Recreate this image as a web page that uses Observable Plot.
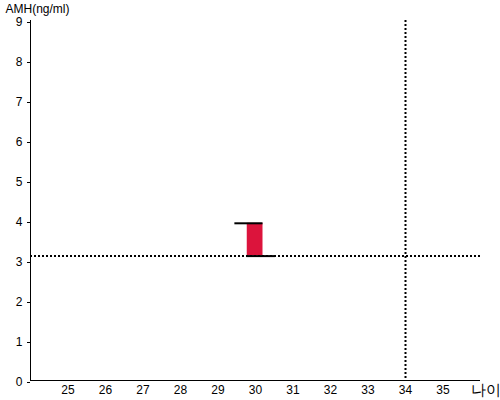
<!DOCTYPE html>
<html><head><meta charset="utf-8">
<script src="https://cdn.jsdelivr.net/npm/d3@7"></script>
<script src="https://cdn.jsdelivr.net/npm/@observablehq/plot@0.6"></script>
<style>
body{margin:0;background:#fff;}
#chart svg{font-family:"Liberation Sans",Arial,sans-serif;}
</style>
</head><body><div id="chart"></div>
<script>
const ages = [30];
const amhLow = [3.11];
const amhHigh = [3.93];
const refAge = [34];
const refAmh = [3.11];
const xTicks = [25,26,27,28,29,30,31,32,33,34,35];
const yTicks = [0,1,2,3,4,5,6,7,8,9];
const yLabel = "AMH(ng/ml)";
const xLabel = "나이";

const bars = ages.map((a,i)=>({age:a, lo:amhLow[i], hi:amhHigh[i]}));

const chart = Plot.plot({
  width: 500, height: 400,
  marginLeft: 30, marginRight: 20, marginTop: 20, marginBottom: 20,
  style: {fontFamily: '"Liberation Sans",Arial,sans-serif', fontSize: "12px", color: "#000", background: "#fff"},
  x: {domain: [24, 36], ticks: xTicks},
  y: {domain: [0, 9], ticks: yTicks},
  marks: [
    Plot.axisY({ticks: yTicks, tickSize: 3, tickPadding: 5, label: null, fontSize: 12, dy: 2}),
    Plot.axisX({ticks: xTicks, tickSize: 0, tickPadding: 5, label: null, fontSize: 12}),
    Plot.rect(bars, {x1: d=>d.age-0.22, x2: d=>d.age+0.2, y1: "lo", y2: "hi", fill: "#dc143c"}),
    Plot.ruleY(refAmh, {stroke: "#000", strokeWidth: 2, strokeDasharray: "2,2"}),
    Plot.ruleX(refAge, {stroke: "#000", strokeWidth: 2, strokeDasharray: "2,2"}),
    Plot.ruleY(bars, {y: "hi", x1: d=>d.age-0.55, x2: d=>d.age+0.2, stroke: "#000", strokeWidth: 2}),
    Plot.ruleY(bars, {y: "lo", x1: d=>d.age-0.23, x2: d=>d.age+0.53, stroke: "#000", strokeWidth: 2}),
    Plot.ruleX([24], {stroke: "#000", strokeWidth: 1}),
    Plot.ruleY([0], {stroke: "#000", strokeWidth: 1}),
    Plot.text([yLabel], {frameAnchor: "top-left", dx: -25, dy: -11, textAnchor: "start", lineAnchor: "middle", fontSize: 12, fill: "#000"}),
    Plot.text([xLabel], {frameAnchor: "bottom-right", dx: 5, dy: 10, textAnchor: "middle", lineAnchor: "middle", fontSize: 15, fill: "#000"})
  ]
});
document.getElementById("chart").appendChild(chart);
</script>
</body></html>
